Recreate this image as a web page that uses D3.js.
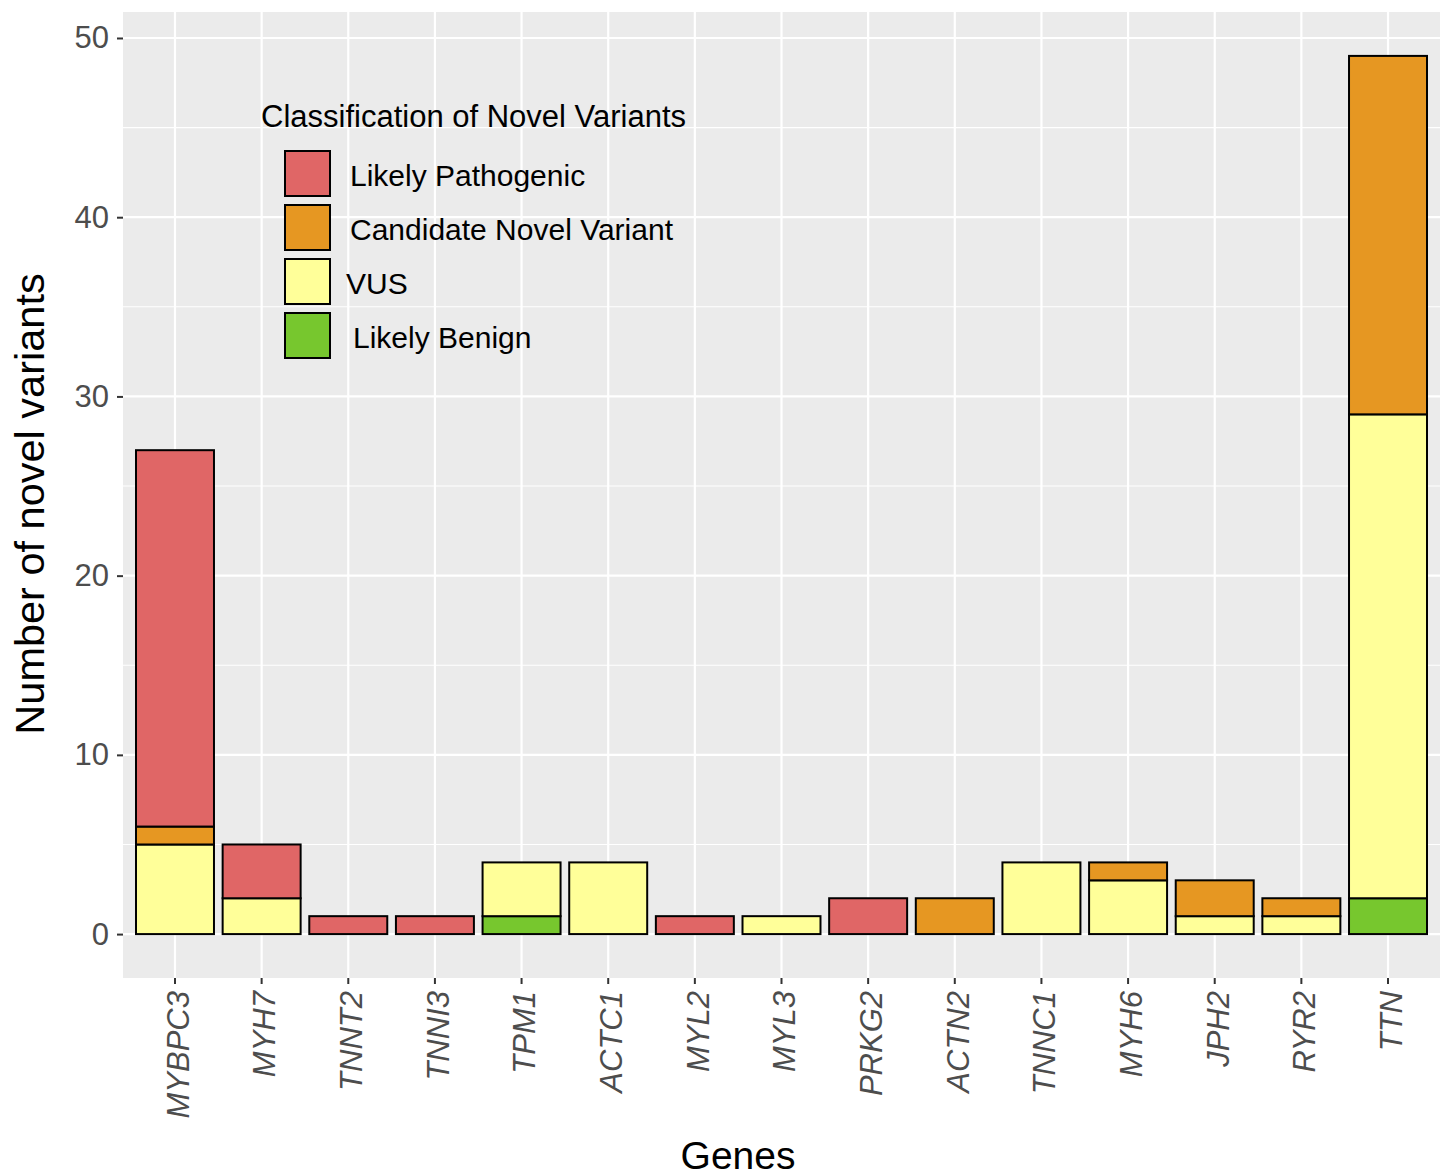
<!DOCTYPE html>
<html lang="en">
<head>
<meta charset="utf-8">
<title>Novel variants by gene</title>
<script src="https://cdn.jsdelivr.net/npm/d3@7"></script>
<style>
  body { margin: 0; background: #fff; }
  text { font-family: "Liberation Sans", Arial, sans-serif; }
</style>
</head>
<body>
<svg width="1443" height="1173"></svg>
<script>
// data
const genes = ["MYBPC3", "MYH7", "TNNT2", "TNNI3", "TPM1", "ACTC1", "MYL2", "MYL3",
               "PRKG2", "ACTN2", "TNNC1", "MYH6", "JPH2", "RYR2", "TTN"];
const likelyBenign     = [0, 0, 0, 0, 1, 0, 0, 0, 0, 0, 0, 0, 0, 0, 2];
const vus              = [5, 2, 0, 0, 3, 4, 0, 1, 0, 0, 4, 3, 1, 1, 27];
const candidateNovel   = [1, 0, 0, 0, 0, 0, 0, 0, 0, 2, 0, 1, 2, 1, 20];
const likelyPathogenic = [21, 3, 1, 1, 0, 0, 1, 0, 2, 0, 0, 0, 0, 0, 0];
const yTicks = [0, 10, 20, 30, 40, 50];

const classes = [
  { key: "lb",  label: "Likely Benign",           values: likelyBenign,     color: "#77C72E" },
  { key: "vus", label: "VUS",                     values: vus,              color: "#FFFF99" },
  { key: "cnv", label: "Candidate Novel Variant", values: candidateNovel,   color: "#E69722" },
  { key: "lp",  label: "Likely Pathogenic",       values: likelyPathogenic, color: "#E06666" }
];

const rows = genes.map((g, i) => {
  const r = { gene: g };
  classes.forEach(c => r[c.key] = c.values[i]);
  return r;
});

const svg = d3.select("svg");
const panel = { left: 123, top: 12, right: 1440, bottom: 978 };

const maxTotal = d3.max(rows, r => classes.reduce((s, c) => s + r[c.key], 0));
const yPad = maxTotal * 0.05;

const x = d3.scaleBand()
  .domain(genes)
  .range([panel.left, panel.right])
  .paddingInner(0.1)
  .paddingOuter(0.15);

const y = d3.scaleLinear()
  .domain([-yPad, maxTotal + yPad])
  .range([panel.bottom, panel.top]);

// panel background
svg.append("rect")
  .attr("x", panel.left).attr("y", panel.top)
  .attr("width", panel.right - panel.left)
  .attr("height", panel.bottom - panel.top)
  .attr("fill", "#EBEBEB");

const grid = svg.append("g");
// minor gridlines
grid.selectAll(".minor").data(yTicks.slice(0, -1).map(t => t + 5))
  .enter().append("line")
  .attr("x1", panel.left).attr("x2", panel.right)
  .attr("y1", d => y(d)).attr("y2", d => y(d))
  .attr("stroke", "#fff").attr("stroke-width", 1.1);
// major gridlines
grid.selectAll(".major").data(yTicks)
  .enter().append("line")
  .attr("x1", panel.left).attr("x2", panel.right)
  .attr("y1", d => y(d)).attr("y2", d => y(d))
  .attr("stroke", "#fff").attr("stroke-width", 2.2);
grid.selectAll(".vline").data(genes)
  .enter().append("line")
  .attr("x1", d => x(d) + x.bandwidth() / 2).attr("x2", d => x(d) + x.bandwidth() / 2)
  .attr("y1", panel.top).attr("y2", panel.bottom)
  .attr("stroke", "#fff").attr("stroke-width", 2.2);

// stacked bars
const stack = d3.stack().keys(classes.map(c => c.key));
const series = stack(rows);
const colorOf = d3.scaleOrdinal().domain(classes.map(c => c.key)).range(classes.map(c => c.color));

svg.append("g").selectAll("g").data(series)
  .enter().append("g")
  .attr("fill", d => colorOf(d.key))
  .selectAll("rect").data(d => d.filter(s => s[1] - s[0] > 0))
  .enter().append("rect")
  .attr("x", d => x(d.data.gene))
  .attr("width", x.bandwidth())
  .attr("y", d => y(d[1]))
  .attr("height", d => y(d[0]) - y(d[1]))
  .attr("stroke", "#000")
  .attr("stroke-width", 2);

// y axis
const yAxis = d3.axisLeft(y).tickValues(yTicks).tickSize(6).tickPadding(8);
const yAxisG = svg.append("g")
  .attr("transform", `translate(${panel.left},0)`)
  .call(yAxis);
yAxisG.select(".domain").remove();
yAxisG.selectAll(".tick line").attr("stroke", "#333").attr("stroke-width", 2);
yAxisG.selectAll(".tick text")
  .attr("fill", "#4D4D4D").style("font-size", "31px");

// x axis
const xAxis = d3.axisBottom(x).tickSize(6).tickPadding(0);
const xAxisG = svg.append("g")
  .attr("transform", `translate(0,${panel.bottom})`)
  .call(xAxis);
xAxisG.select(".domain").remove();
xAxisG.selectAll(".tick line").attr("stroke", "#333").attr("stroke-width", 2);
xAxisG.selectAll(".tick text")
  .attr("fill", "#4D4D4D")
  .style("font-size", "31px")
  .style("font-style", "italic")
  .attr("text-anchor", "end")
  .attr("dy", "0.35em")
  .attr("transform", "translate(3,13) rotate(-90)")
  .attr("x", 0).attr("y", 0);

// axis titles
svg.append("text")
  .attr("transform", `translate(44,${(panel.top + panel.bottom) / 2 + 9}) rotate(-90)`)
  .attr("text-anchor", "middle")
  .style("font-size", "41.5px")
  .attr("fill", "#000")
  .text("Number of novel variants");

svg.append("text")
  .attr("x", 738)
  .attr("y", 1169)
  .attr("text-anchor", "middle")
  .style("font-size", "39px")
  .attr("fill", "#000")
  .text("Genes");

// legend
const legendOrder = ["lp", "cnv", "vus", "lb"];
const legendTextX = { lp: 350, cnv: 350, vus: 346, lb: 353 };
const legendY = d3.scalePoint().domain(legendOrder).range([150, 312]);
const legend = svg.append("g");
legend.append("text")
  .attr("x", 261).attr("y", 127)
  .style("font-size", "31px")
  .attr("fill", "#000")
  .text("Classification of Novel Variants");
const items = legend.selectAll(".item").data(legendOrder.map(k => classes.find(c => c.key === k)))
  .enter().append("g");
items.append("rect")
  .attr("x", 285).attr("y", d => legendY(d.key) + 1)
  .attr("width", 45).attr("height", 45)
  .attr("fill", d => d.color)
  .attr("stroke", "#000").attr("stroke-width", 2);
items.append("text")
  .attr("x", d => legendTextX[d.key])
  .attr("y", d => legendY(d.key) + 36)
  .style("font-size", "30px")
  .attr("fill", "#000")
  .text(d => d.label);
</script>
</body>
</html>
